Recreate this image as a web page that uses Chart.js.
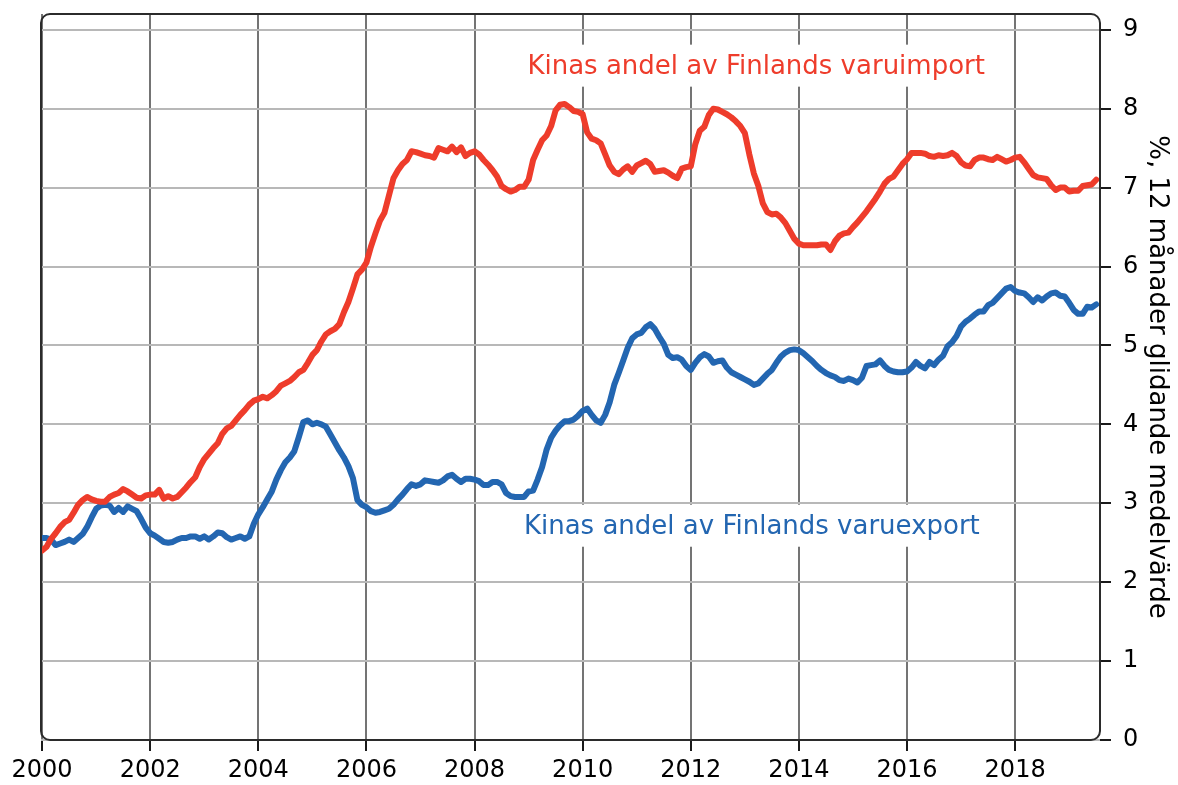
<!DOCTYPE html>
<html>
<head>
<meta charset="utf-8">
<script src="https://cdn.jsdelivr.net/npm/chart.js@4.4.1/dist/chart.umd.min.js"></script>
<style>
  html, body { margin: 0; padding: 0; background: #ffffff; }
  #wrap { width: 1178px; height: 785px; position: relative; }
</style>
</head>
<body>
<div id="wrap"><canvas id="c" width="1178" height="785"></canvas></div>
<script>
// ---- Data (monthly, Jan 2000 – Jul 2019), %, 12-month moving average ----
const startYear = 2000;
const importShare = [
  2.40, 2.45, 2.55, 2.62, 2.70, 2.76, 2.79, 2.88, 2.98, 3.04, 3.08, 3.05,
  3.03, 3.02, 3.02, 3.08, 3.11, 3.13, 3.18, 3.15, 3.11, 3.07, 3.06, 3.10,
  3.11, 3.11, 3.17, 3.06, 3.09, 3.06, 3.08, 3.14, 3.20, 3.27, 3.33, 3.46,
  3.56, 3.63, 3.70, 3.76, 3.88, 3.95, 3.98, 4.05, 4.12, 4.18, 4.25, 4.30,
  4.32, 4.35, 4.33, 4.37, 4.42, 4.49, 4.52, 4.55, 4.60, 4.66, 4.69, 4.78,
  4.88, 4.94, 5.05, 5.14, 5.18, 5.21, 5.27, 5.42, 5.55, 5.72, 5.90, 5.96,
  6.05, 6.25, 6.42, 6.58, 6.68, 6.90, 7.12, 7.22, 7.30, 7.35, 7.46, 7.45,
  7.43, 7.41, 7.40, 7.38, 7.50, 7.48, 7.46, 7.52, 7.45, 7.51, 7.40, 7.44,
  7.46, 7.42, 7.35, 7.29, 7.22, 7.14, 7.02, 6.98, 6.95, 6.97, 7.01, 7.01,
  7.10, 7.35, 7.48, 7.60, 7.66, 7.78, 7.98, 8.05, 8.06, 8.02, 7.97, 7.96,
  7.93, 7.70, 7.62, 7.60, 7.56, 7.42, 7.28, 7.20, 7.17, 7.23, 7.27, 7.20,
  7.28, 7.31, 7.34, 7.30, 7.20, 7.21, 7.22, 7.19, 7.15, 7.12, 7.24, 7.26,
  7.27, 7.55, 7.72, 7.77, 7.92, 8.00, 7.99, 7.96, 7.93, 7.89, 7.84, 7.78,
  7.69, 7.42, 7.18, 7.02, 6.80, 6.69, 6.66, 6.67, 6.62, 6.55, 6.45, 6.35,
  6.29, 6.27, 6.27, 6.27, 6.27, 6.28, 6.28, 6.21, 6.32, 6.39, 6.42, 6.43,
  6.50, 6.56, 6.63, 6.70, 6.78, 6.86, 6.95, 7.05, 7.11, 7.14, 7.22, 7.30,
  7.36, 7.44, 7.44, 7.44, 7.43, 7.40, 7.39, 7.41, 7.40, 7.41, 7.44, 7.40,
  7.32, 7.28, 7.27, 7.35, 7.38, 7.38, 7.36, 7.35, 7.39, 7.36, 7.33, 7.35,
  7.38, 7.39, 7.32, 7.24, 7.16, 7.13, 7.12, 7.11, 7.03, 6.97, 7.00, 7.00,
  6.95, 6.96, 6.96, 7.02, 7.03, 7.04, 7.10
];
const exportShare = [
  2.56, 2.56, 2.54, 2.47, 2.49, 2.51, 2.54, 2.51, 2.56, 2.61, 2.70, 2.82,
  2.93, 2.97, 2.98, 2.97, 2.89, 2.94, 2.89, 2.96, 2.93, 2.90, 2.80, 2.69,
  2.62, 2.59, 2.55, 2.51, 2.50, 2.51, 2.54, 2.56, 2.56, 2.58, 2.58, 2.55,
  2.58, 2.54, 2.58, 2.63, 2.62, 2.57, 2.54, 2.56, 2.58, 2.55, 2.58, 2.74,
  2.86, 2.95, 3.05, 3.15, 3.30, 3.42, 3.52, 3.58, 3.66, 3.84, 4.03, 4.05,
  4.00, 4.02, 4.00, 3.97, 3.87, 3.77, 3.67, 3.58, 3.47, 3.32, 3.04, 2.98,
  2.95, 2.90, 2.88, 2.89, 2.91, 2.93, 2.98, 3.05, 3.11, 3.18, 3.24, 3.22,
  3.24, 3.29, 3.28, 3.27, 3.26, 3.29, 3.34, 3.36, 3.31, 3.27, 3.31, 3.31,
  3.30, 3.28, 3.23, 3.23, 3.27, 3.27, 3.24, 3.13, 3.09, 3.08, 3.08, 3.08,
  3.15, 3.16, 3.30, 3.46, 3.68, 3.83, 3.92, 3.99, 4.04, 4.04, 4.06, 4.11,
  4.17, 4.20, 4.12, 4.05, 4.02, 4.12, 4.28, 4.50, 4.65, 4.81, 4.97, 5.09,
  5.14, 5.16, 5.23, 5.27, 5.21, 5.11, 5.02, 4.88, 4.84, 4.85, 4.82, 4.74,
  4.69, 4.78, 4.85, 4.89, 4.86, 4.78, 4.80, 4.81, 4.72, 4.66, 4.63, 4.60,
  4.57, 4.54, 4.50, 4.52, 4.58, 4.64, 4.69, 4.78, 4.86, 4.91, 4.94, 4.95,
  4.94, 4.90, 4.85, 4.80, 4.74, 4.69, 4.65, 4.62, 4.60, 4.56, 4.55, 4.58,
  4.56, 4.53, 4.59, 4.74, 4.75, 4.76, 4.81, 4.74, 4.69, 4.67, 4.66, 4.66,
  4.67, 4.72, 4.79, 4.74, 4.71, 4.79, 4.75, 4.82, 4.87, 4.99, 5.04, 5.12,
  5.24, 5.30, 5.34, 5.39, 5.43, 5.43, 5.51, 5.54, 5.60, 5.66, 5.72, 5.74,
  5.69, 5.67, 5.66, 5.61, 5.55, 5.61, 5.57, 5.62, 5.66, 5.67, 5.63, 5.62,
  5.54, 5.45, 5.40, 5.40, 5.49, 5.48, 5.52
];
const xTickYears = [2000, 2002, 2004, 2006, 2008, 2010, 2012, 2014, 2016, 2018];
const yTickValues = [0, 1, 2, 3, 4, 5, 6, 7, 8, 9];
const importLabel = 'Kinas andel av Finlands varuimport';
const exportLabel = 'Kinas andel av Finlands varuexport';
const axisTitle = '%, 12 månader glidande medelvärde';

// ---- Styling ----
const RED = '#ee3c2b';
const BLUE = '#2366b1';
const FONT = '"DejaVu Sans", Verdana, sans-serif';

const toPoints = arr => arr.map((v, i) => ({ x: startYear + i / 12, y: v }));

const annotations = [
  { text: importLabel, color: RED, x: 2013.21, y: 8.52 },
  { text: exportLabel, color: BLUE, x: 2013.13, y: 2.69 }
];

const framePlugin = {
  id: 'frame',
  beforeDatasetsDraw(chart) {
    const { ctx } = chart;
    const xs = chart.scales.x, ys = chart.scales.y;
    ctx.save();
    ctx.font = '26px ' + FONT;
    ctx.textAlign = 'center';
    ctx.textBaseline = 'middle';
    annotations.forEach(a => {
      const px = xs.getPixelForValue(a.x);
      const py = ys.getPixelForValue(a.y);
      const w = ctx.measureText(a.text).width;
      ctx.fillStyle = '#ffffff';
      ctx.fillRect(px - w / 2 - 8, py - 23, w + 16, 42);
      ctx.fillStyle = a.color;
      ctx.fillText(a.text, px, py);
    });
    ctx.restore();
  },
  afterDatasetsDraw(chart) {
    const { ctx, chartArea: ca } = chart;
    const r = 9;
    ctx.save();
    ctx.strokeStyle = '#2b2b2b';
    ctx.lineWidth = 2;
    ctx.beginPath();
    ctx.moveTo(ca.left + r, ca.top);
    ctx.lineTo(ca.right - r, ca.top);
    ctx.arcTo(ca.right, ca.top, ca.right, ca.top + r, r);
    ctx.lineTo(ca.right, ca.bottom - r);
    ctx.arcTo(ca.right, ca.bottom, ca.right - r, ca.bottom, r);
    ctx.lineTo(ca.left + r, ca.bottom);
    ctx.arcTo(ca.left, ca.bottom, ca.left, ca.bottom - r, r);
    ctx.lineTo(ca.left, ca.top + r);
    ctx.arcTo(ca.left, ca.top, ca.left + r, ca.top, r);
    ctx.closePath();
    ctx.stroke();
    ctx.restore();
  }
};

Chart.defaults.font.family = FONT;
Chart.defaults.color = '#000000';

new Chart(document.getElementById('c'), {
  type: 'line',
  data: {
    datasets: [
      {
        label: importLabel,
        data: toPoints(importShare),
        borderColor: RED,
        borderWidth: 6,
        pointRadius: 0,
        tension: 0,
        borderJoinStyle: 'round',
        borderCapStyle: 'round',
        fill: false
      },
      {
        label: exportLabel,
        data: toPoints(exportShare),
        borderColor: BLUE,
        borderWidth: 6,
        pointRadius: 0,
        tension: 0,
        borderJoinStyle: 'round',
        borderCapStyle: 'round',
        fill: false
      }
    ]
  },
  options: {
    responsive: false,
    animation: false,
    devicePixelRatio: 1,
    layout: { padding: { left: 41, top: 14, right: 0, bottom: 0 } },
    plugins: {
      legend: { display: false },
      tooltip: { enabled: false }
    },
    scales: {
      x: {
        type: 'linear',
        min: 1999.98,
        max: 2019.57,
        afterBuildTicks: s => { s.ticks = xTickYears.map(v => ({ value: v })); },
        afterFit: s => { s.height = 45; s.paddingLeft = 0; s.paddingRight = 0; },
        grid: { color: '#747474', lineWidth: 2, tickLength: 11, tickColor: '#1a1a1a', tickWidth: 2 },
        border: { display: false },
        ticks: {
          font: { size: 24 },
          color: '#000000',
          padding: 5,
          maxRotation: 0,
          autoSkip: false,
          callback: v => String(v)
        }
      },
      y: {
        position: 'right',
        min: 0,
        max: 9.2,
        afterBuildTicks: s => { s.ticks = yTickValues.map(v => ({ value: v })); },
        afterFit: s => { s.width = 78; s.paddingTop = 0; s.paddingBottom = 0; },
        grid: { color: '#b8b8b8', lineWidth: 2, tickLength: 11, tickColor: '#1a1a1a', tickWidth: 2 },
        border: { display: false },
        ticks: {
          font: { size: 24 },
          color: '#000000',
          padding: 12,
          callback: v => String(v)
        },
        title: {
          display: true,
          text: axisTitle,
          font: { size: 26 },
          color: '#000000',
          padding: { top: 6, bottom: 0 }
        }
      }
    }
  },
  plugins: [framePlugin]
});
</script>
</body>
</html>
